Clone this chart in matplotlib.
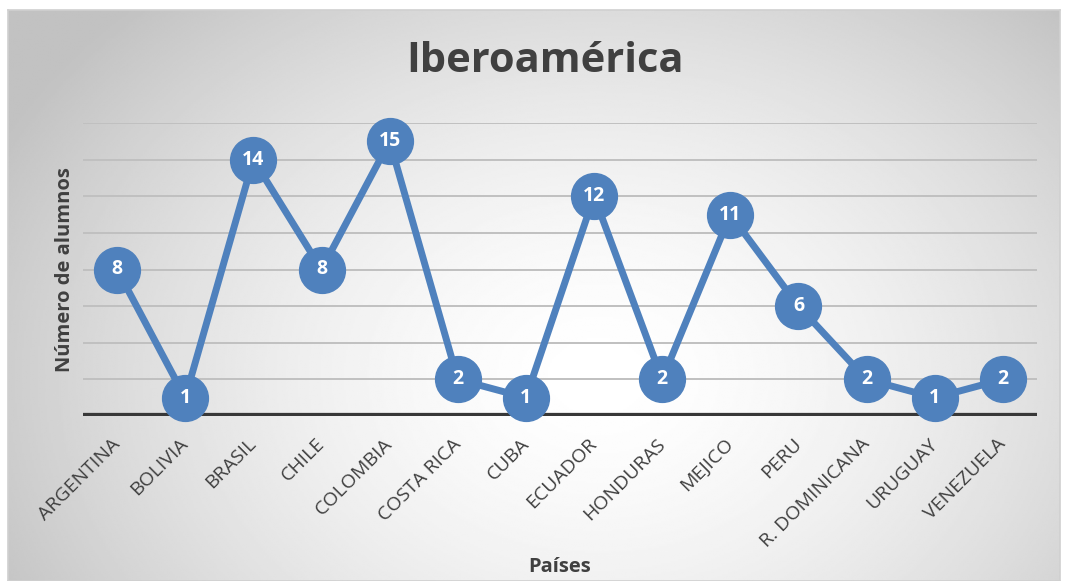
import numpy as np
import matplotlib.pyplot as plt
from matplotlib.transforms import ScaledTranslation

plt.rcParams.update({
    "font.family": ["Open Sans", "DejaVu Sans"],
    "figure.facecolor": "white",
})

# Data
paises = ["ARGENTINA", "BOLIVIA", "BRASIL", "CHILE", "COLOMBIA", "COSTA RICA",
          "CUBA", "ECUADOR", "HONDURAS", "MEJICO", "PERU", "R. DOMINICANA",
          "URUGUAY", "VENEZUELA"]
alumnos = [8, 1, 14, 8, 15, 2, 1, 12, 2, 11, 6, 2, 1, 2]

blue = "#4f81bd"
text_color = "#404040"

fig = plt.figure(figsize=(10.68, 5.81), dpi=100)

# Radial gradient background for the chart area
bg = fig.add_axes([8 / 1068, 0, 1052 / 1068, 571 / 581], zorder=0)
h, w = 300, 550
yy, xx = np.mgrid[0:h, 0:w]
cx, cy = 0.56 * w, 0.64 * h
r = np.sqrt(((xx - cx) / (0.64 * w)) ** 2 + ((yy - cy) / (0.9 * h)) ** 2)
shade = 1.0 - 0.24 * np.clip(r, 0, 1.0) ** 1.6
bg.imshow(shade, cmap="gray", vmin=0, vmax=1, aspect="auto",
          extent=[0, 1, 0, 1], interpolation="bilinear")
bg.set_xticks([])
bg.set_yticks([])
for s in bg.spines.values():
    s.set_color("#d0d0d0")
    s.set_linewidth(1.2)

# Main axes
ax = fig.add_axes([83 / 1068, 165 / 581, 954 / 1068, 293 / 581], zorder=1)
ax.patch.set_alpha(0)
x = np.arange(len(paises))

ax.set_ylim(0, 16)
ax.set_xlim(-0.5, len(paises) - 0.5)
ax.set_yticks(np.arange(0, 17, 2))
ax.yaxis.grid(True, color="#c0c0c0", linewidth=1.4)
ax.set_axisbelow(True)
ax.tick_params(axis="y", left=False, labelleft=False)
ax.tick_params(axis="x", bottom=False, pad=10)
for s in ax.spines.values():
    s.set_visible(False)
ax.axhline(0, color="#383838", linewidth=4.5, zorder=2)

ax.plot(x, alumnos, color=blue, linewidth=5, marker="o", markersize=33,
        markerfacecolor=blue, markeredgecolor=blue, clip_on=False, zorder=3)
for xi, v in zip(x, alumnos):
    ax.text(xi, v, str(v), ha="center", va="center", color="white",
            fontsize=14, fontweight="bold", zorder=4)

ax.set_xticks(x)
ax.set_xticklabels(paises, rotation=45, ha="right", rotation_mode="anchor",
                   fontsize=14, color=text_color)
shift = ScaledTranslation(-6 / 100, 0, fig.dpi_scale_trans)
for lab in ax.get_xticklabels():
    lab.set_transform(lab.get_transform() + shift)

fig.text(545 / 1068, 1 - 62 / 581, "Iberoamérica", ha="center", va="center",
         fontsize=30, fontweight="bold", color=text_color)
fig.text(65 / 1068, 1 - 270 / 581, "Número de alumnos", rotation=90,
         ha="center", va="center", fontsize=14.5, fontweight="bold", color=text_color)
fig.text(560 / 1068, 1 - 567 / 581, "Países", ha="center", va="center",
         fontsize=14.5, fontweight="bold", color=text_color)

fig.savefig("out.png", dpi=100)
